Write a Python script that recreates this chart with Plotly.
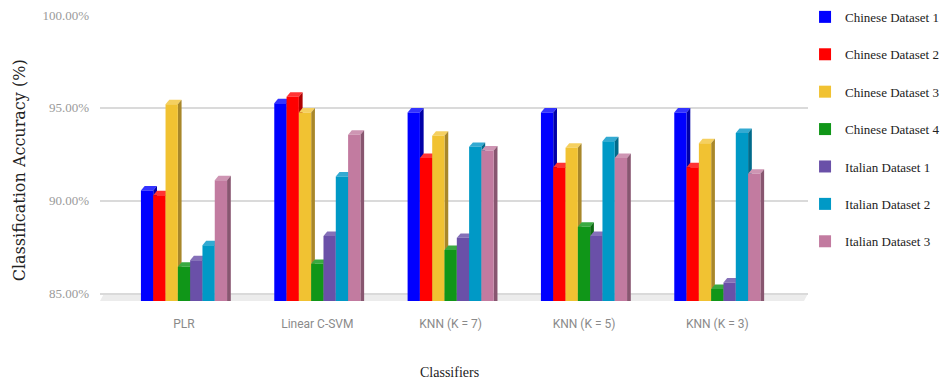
import plotly.graph_objects as go

# Classifiers on the x axis
classifiers = ["PLR", "Linear C-SVM", "KNN (K = 7)", "KNN (K = 5)", "KNN (K = 3)"]

# Accuracy (%) per dataset, one value per classifier
chinese_1 = [90.55, 95.25, 94.75, 94.75, 94.75]
chinese_2 = [90.30, 95.60, 92.30, 91.80, 91.80]
chinese_3 = [95.20, 94.75, 93.50, 92.85, 93.10]
chinese_4 = [86.45, 86.60, 87.35, 88.60, 85.25]
italian_1 = [86.80, 88.10, 88.00, 88.10, 85.60]
italian_2 = [87.60, 91.30, 92.90, 93.20, 93.65]
italian_3 = [91.10, 93.55, 92.70, 92.30, 91.45]

series_names = ["Chinese Dataset 1", "Chinese Dataset 2", "Chinese Dataset 3",
                "Chinese Dataset 4", "Italian Dataset 1", "Italian Dataset 2",
                "Italian Dataset 3"]
series_values = [chinese_1, chinese_2, chinese_3, chinese_4,
                 italian_1, italian_2, italian_3]

# front, top-cap and side shades for each series
front_colors = ["#0000FF", "#FF0000", "#F1C232", "#109618", "#6A50A8", "#0099C6", "#C27BA0"]
cap_colors = ["#3333FF", "#FF3333", "#F5D060", "#3AAA40", "#8570B8", "#33AAD2", "#CE95B3"]
side_colors = ["#0000A8", "#B00000", "#A8872A", "#0B6A11", "#4A3875", "#006B8B", "#885670"]

y_ticks = [85, 90, 95, 100]
y_tick_text = [f"{v:.2f}%" for v in y_ticks]
y_min, y_max = 84.6, 100.0
x_min, x_max = -0.63, 4.68

group_width = 0.646
bar_w = group_width / len(series_names)
depth_x = 0.028   # 3D depth, category units
depth_y = 0.24    # 3D depth, percentage units

serif = "Liberation Serif, DejaVu Serif, serif"
title_serif = "DejaVu Serif, serif"
sans = "Roboto, Liberation Sans, sans-serif"

fig = go.Figure()
xs = list(range(len(classifiers)))
shapes = []

# floor slab under the bars
shapes.append(dict(
    type="path", xref="x", yref="y", layer="below",
    path=f"M {x_min},{y_min} L {x_max - 0.03},{y_min} L {x_max},{y_ticks[0]} L {x_min + 0.03},{y_ticks[0]} Z",
    fillcolor="#ececec", line=dict(width=0)))

for j, (name, vals) in enumerate(zip(series_names, series_values)):
    offset = -group_width / 2 + j * bar_w
    fig.add_trace(go.Bar(
        x=xs, y=vals, name=name, width=bar_w, offset=offset,
        marker=dict(color=front_colors[j], line=dict(width=0)),
        legendgroup=name, hoverinfo="skip"))
    for i, v in enumerate(vals):
        x0 = i + offset
        x1 = x0 + bar_w
        # top cap
        shapes.append(dict(
            type="path", xref="x", yref="y", layer="between",
            path=f"M {x0},{v} L {x1},{v} L {x1 + depth_x},{v + depth_y} L {x0 + depth_x},{v + depth_y} Z",
            fillcolor=cap_colors[j], line=dict(width=0)))
        # right side face
        shapes.append(dict(
            type="path", xref="x", yref="y", layer="between",
            path=f"M {x1},{y_min} L {x1},{v} L {x1 + depth_x},{v + depth_y} L {x1 + depth_x},{y_min} Z",
            fillcolor=side_colors[j], line=dict(width=0)))

fig.update_layout(
    width=946, height=385,
    margin=dict(l=100, r=138, t=15, b=84, autoexpand=False),
    paper_bgcolor="white", plot_bgcolor="white",
    barmode="overlay",
    shapes=shapes,
    showlegend=True,
    legend=dict(
        xref="container", yref="container",
        x=0.851, xanchor="left", y=0.995, yanchor="top",
        font=dict(family=serif, size=13, color="#222222"),
        tracegroupgap=17.5, itemwidth=30, maxheight=1.0,
        bgcolor="rgba(0,0,0,0)"),
    xaxis=dict(
        range=[x_min, x_max], tickmode="array", tickvals=xs, ticktext=classifiers,
        showgrid=False, zeroline=False, showline=False, ticks="",
        ticklabelstandoff=14,
        tickfont=dict(family=sans, size=12, color="#8a8a8a")),
    yaxis=dict(
        range=[y_min, y_max], tickmode="array", tickvals=y_ticks, ticktext=y_tick_text,
        showgrid=True, gridcolor="#dadada", gridwidth=2,
        zeroline=False, showline=False, ticks="",
        ticklabelstandoff=10,
        tickfont=dict(family=serif, size=13, color="#9a9a9a")),
    annotations=[
        dict(text="Classification Accuracy (%)", xref="paper", yref="paper",
             x=0, y=0.457, xshift=-81, xanchor="center", yanchor="middle",
             textangle=-90, showarrow=False,
             font=dict(family=title_serif, size=16, color="#222222")),
        dict(text="Classifiers", xref="paper", yref="paper",
             x=0.494, y=-0.25, xanchor="center", yanchor="middle",
             showarrow=False, font=dict(family=serif, size=14, color="#222222")),
    ],
)

fig.write_html("out.html")
